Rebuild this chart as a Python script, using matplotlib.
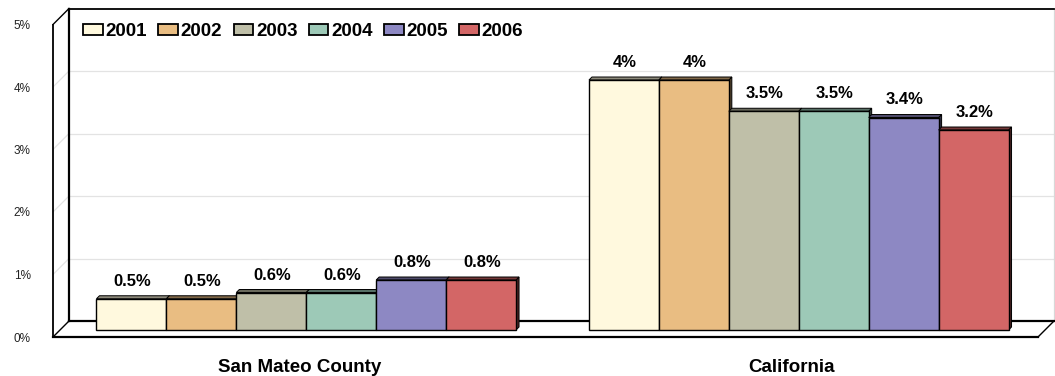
import numpy as np
import matplotlib
matplotlib.use("Agg")
import matplotlib.pyplot as plt
import matplotlib.transforms as mtransforms
from matplotlib.patches import Polygon

# data
categories = ["San Mateo County", "California"]
years = ["2001", "2002", "2003", "2004", "2005", "2006"]
san_mateo = [0.5, 0.5, 0.6, 0.6, 0.8, 0.8]
california = [4.0, 4.0, 3.5, 3.5, 3.4, 3.2]
san_mateo_labels = ["0.5%", "0.5%", "0.6%", "0.6%", "0.8%", "0.8%"]
california_labels = ["4%", "4%", "3.5%", "3.5%", "3.4%", "3.2%"]
colors = ["#FFF9DE", "#E9BD82", "#BFBFA8", "#9DC9B7", "#8D88C3", "#D36666"]
yticks = [0, 1, 2, 3, 4, 5]
ytick_labels = ["0%", "1%", "2%", "3%", "4%", "5%"]

FONT = ["Liberation Sans", "DejaVu Sans"]

W, H = 1055, 376
fig = plt.figure(figsize=(W / 100, H / 100), dpi=100)
# front plane of the 3d box
ax = fig.add_axes([53 / W, (H - 337) / H, (1038 - 53) / W, 312.5 / H])
ax.set_xlim(-0.5, 1.5)
ax.set_ylim(0, 5)
for s in ax.spines.values():
    s.set_visible(False)
ax.patch.set_visible(False)

DEPTH = 16      # px, depth of the box
BAR_D0 = 7      # px, front face of the bars
BAR_D1 = 10     # px, back face of the bars
ident = mtransforms.IdentityTransform()


def pt(x, y, d):
    X, Y = ax.transData.transform((x, y))
    return (X + d, Y + d)


def poly(points, z, **kw):
    p = Polygon(points, closed=True, transform=ident, zorder=z, clip_on=False, **kw)
    ax.add_artist(p)
    return p


def line(p1, p2, z, **kw):
    ax.plot([p1[0], p2[0]], [p1[1], p2[1]], transform=ident, zorder=z,
            clip_on=False, solid_capstyle="projecting", **kw)


x0, x1 = ax.get_xlim()

# walls and floor
poly([pt(x0, 0, DEPTH), pt(x1, 0, DEPTH), pt(x1, 5, DEPTH), pt(x0, 5, DEPTH)], 1,
     facecolor="white", edgecolor="none")
poly([pt(x0, 0, 0), pt(x0, 5, 0), pt(x0, 5, DEPTH), pt(x0, 0, DEPTH)], 1,
     facecolor="white", edgecolor="none")
for v in yticks[1:5]:
    line(pt(x0, v, DEPTH), pt(x1, v, DEPTH), 2, color="#E3E3E3", lw=0.9)
    line(pt(x0, v, 0), pt(x0, v, DEPTH), 2, color="#E3E3E3", lw=0.9)
line(pt(x1, 0, DEPTH), pt(x1, 5, DEPTH), 2, color="#D8D8D8", lw=0.9)
poly([pt(x0, 0, 0), pt(x1, 0, 0), pt(x1, 0, DEPTH), pt(x0, 0, DEPTH)], 3,
     facecolor="white", edgecolor="black", lw=1.0)
line(pt(x0, 0, DEPTH), pt(x1, 0, DEPTH), 3, color="black", lw=1.6)
line(pt(x0, 0, 0), pt(x1, 0, 0), 3, color="black", lw=1.6)
line(pt(x0, 0, DEPTH), pt(x0, 5, DEPTH), 3, color="black", lw=1.6)
line(pt(x0, 5, DEPTH), pt(x1, 5, DEPTH), 3, color="black", lw=1.3)
line(pt(x0, 0, 0), pt(x0, 5, 0), 3, color="black", lw=1.3)
line(pt(x0, 5, 0), pt(x0, 5, DEPTH), 3, color="black", lw=1.0)

# bars
n = len(years)
width = 70 / 493
x = np.arange(len(categories))
off = mtransforms.ScaledTranslation(BAR_D0 / 100, BAR_D0 / 100, fig.dpi_scale_trans)
values = np.array([san_mateo, california])
labels = [san_mateo_labels, california_labels]


def darker(c, f):
    r, g, b = matplotlib.colors.to_rgb(c)
    return (r * f, g * f, b * f)


handles = []
z = 10
for i in range(n):
    xs = x + (i - (n - 1) / 2) * width
    for j in range(len(categories)):
        xl, xr, h = xs[j] - width / 2, xs[j] + width / 2, values[j, i]
        poly([pt(xr, 0, BAR_D0), pt(xr, 0, BAR_D1), pt(xr, h, BAR_D1), pt(xr, h, BAR_D0)],
             z, facecolor=darker(colors[i], 0.35), edgecolor="black", lw=0.7)
        poly([pt(xl, h, BAR_D0), pt(xr, h, BAR_D0), pt(xr, h, BAR_D1), pt(xl, h, BAR_D1)],
             z, facecolor=darker(colors[i], 0.55), edgecolor="black", lw=0.7)
    b = ax.bar(xs, values[:, i], width, color=colors[i], edgecolor="black", lw=1.0,
               transform=ax.transData + off, zorder=z + 1, clip_on=False, label=years[i])
    handles.append(b)
    for j in range(len(categories)):
        ax.annotate(labels[j][i], (xs[j], values[j, i]), xytext=(BAR_D0 + 1, BAR_D0 + 13),
                    textcoords="offset pixels", ha="center", va="baseline",
                    fontsize=12, fontweight="bold", family=FONT, zorder=30)
    z += 2

# axes text
ax.set_yticks(yticks, ytick_labels)
ax.set_xticks(x, categories)
ax.tick_params(axis="y", length=0, pad=16, labelsize=8.5, labelcolor="#222222")
ax.tick_params(axis="x", length=0, pad=15.5, labelsize=13.5)
for t in ax.get_yticklabels():
    t.set_family(FONT)
for t in ax.get_xticklabels():
    t.set_family(FONT)
    t.set_fontweight("bold")

leg = ax.legend(handles=handles, loc="upper left", bbox_to_anchor=(83 / W, 1 - 23 / H),
                bbox_transform=fig.transFigure, ncol=6, frameon=False, borderpad=0,
                borderaxespad=0, handlelength=1.05, handleheight=0.55, handletextpad=0.15,
                columnspacing=0.6, prop={"family": FONT, "weight": "bold", "size": 13.5})
for hp in leg.legend_handles:
    hp.set_linewidth(1.3)
leg.set_zorder(40)

fig.savefig("out.png", dpi=100)
